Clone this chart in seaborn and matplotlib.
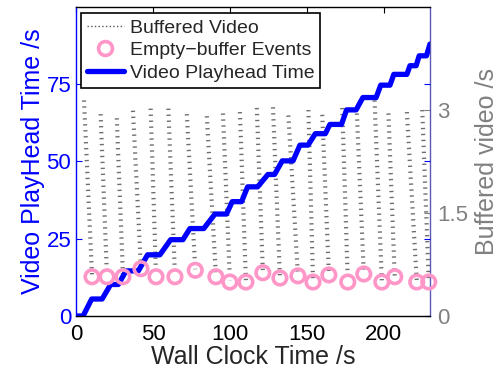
import numpy as np
import pandas as pd
import seaborn as sns
import matplotlib.pyplot as plt
from matplotlib.lines import Line2D

# video playhead (left axis), staircase vertices
play_t = [0, 4.6, 10.2, 17.0, 22.5, 27.5, 32.5, 40.5, 46.5, 54.5, 61.5, 69.5, 74.0, 83.0,
          90.3, 97.8, 101.5, 107.6, 111.5, 118.0, 124.7, 129.0, 134.0, 141.0, 145.5, 150.8,
          155.5, 162.0, 165.0, 172.5, 175.8, 182.0, 186.4, 195.0, 198.0, 204.0, 206.5, 215.0,
          217.0, 221.0, 223.0, 227.7, 230.0]
play_v = [0, 0, 5.5, 5.5, 10.2, 10.2, 14.6, 14.6, 19.8, 19.8, 24.7, 24.7, 28.3, 28.3,
          33.0, 33.0, 37.0, 37.0, 41.8, 41.8, 45.8, 45.8, 50.2, 50.2, 55.3, 55.3,
          59.0, 59.0, 62.0, 62.0, 66.7, 66.7, 70.7, 70.7, 74.7, 74.7, 78.2, 78.2,
          81.0, 81.0, 84.2, 84.2, 88.0]

# empty-buffer events (left axis units)
event_t = [10.4, 20.1, 30.5, 42.2, 52.0, 64.3, 77.5, 90.9, 100.0, 110.4, 121.4, 132.5,
           144.2, 154.0, 164.3, 176.6, 187.0, 198.7, 207.1, 221.4, 229.2]
event_v = [12.7, 12.7, 12.7, 15.3, 12.7, 12.7, 14.8, 12.7, 11.0, 11.0, 14.0, 12.3,
           13.0, 11.0, 13.3, 11.0, 13.6, 11.0, 12.7, 11.0, 11.0]

# buffered video (right axis): top of each refill column and level at the empty event
buf_top_t = [5.2, 16.0, 26.5, 37.0, 48.5, 60.0, 72.0, 85.0, 95.5, 106.5, 117.5, 128.0,
             138.0, 151.0, 160.0, 173.0, 182.5, 194.0, 203.0, 215.0, 225.0]
buf_top_v = [3.14, 2.94, 2.88, 2.99, 3.02, 3.02, 2.94, 2.91, 2.95, 2.97, 3.03, 3.04,
             2.92, 3.00, 2.93, 3.03, 2.95, 3.14, 2.95, 2.97, 3.00]
buf_low_v = [0.60, 0.60, 0.60, 0.70, 0.60, 0.60, 0.68, 0.60, 0.52, 0.52, 0.65, 0.57,
             0.60, 0.52, 0.62, 0.52, 0.63, 0.52, 0.58, 0.52, 0.52]

rows = []
for i in range(len(buf_top_t)):
    rows.append((i, buf_top_t[i], buf_top_v[i]))
    rows.append((i, event_t[i], buf_low_v[i]))
buf = pd.DataFrame(rows, columns=['col', 't', 'buf'])

sns.set_style('white')
plt.rcParams['font.family'] = ['Liberation Sans', 'DejaVu Sans']
plt.rcParams['xtick.direction'] = 'in'
plt.rcParams['ytick.direction'] = 'in'

fig = plt.figure(figsize=(4.98, 3.68), dpi=100)
ax1 = fig.add_axes([0.1526, 0.1413, 0.7108, 0.8397])
ax2 = ax1.twinx()

sns.lineplot(data=buf, x='t', y='buf', units='col', estimator=None, sort=False, ax=ax2,
             color='#6e6e6e', lw=3.0, ls=(0, (0.33, 1.1)), legend=False)

sns.lineplot(x=play_t, y=play_v, ax=ax1, color='blue', lw=3.8, sort=False, estimator=None)
sns.scatterplot(x=event_t, y=event_v, ax=ax1, s=95, fc='none', ec='#ff96c8',
                linewidth=2.6, zorder=4, clip_on=False)

ax1.set_zorder(ax2.get_zorder() + 1)
ax1.patch.set_visible(False)

ax1.set_xlim(0, 230)
ax1.set_ylim(0, 100)
ax2.set_ylim(0, 4.5)
ax1.set_xticks([0, 50, 100, 150, 200])
ax1.set_yticks([0, 25, 50, 75])
ax2.set_yticks([0, 1.5, 3])
ax2.set_yticklabels(['0', '1.5', '3'])

ax1.tick_params(axis='x', labelsize=16, length=4, pad=6, top=True, colors='black')
ax1.tick_params(axis='y', labelsize=16, length=4, right=True, labelright=False,
                colors='blue')
ax2.tick_params(axis='y', labelsize=16, length=4, pad=5, colors='#808080')

for s in ['left', 'top', 'bottom']:
    ax2.spines[s].set_visible(False)
ax1.spines['right'].set_visible(False)
ax1.spines['left'].set_color('blue')
ax1.spines['top'].set_color('black')
ax1.spines['bottom'].set_color('black')
ax2.spines['right'].set_color('#5a5ab4')
for sp in list(ax1.spines.values()) + [ax2.spines['right']]:
    sp.set_linewidth(1.0)

ax1.set_xlabel('Wall Clock Time /s', fontsize=18, labelpad=0)
ax1.set_ylabel('Video PlayHead Time /s', fontsize=18, color='blue', labelpad=1)
ax2.set_ylabel('Buffered video /s', fontsize=18, color='#808080', labelpad=5)

handles = [
    Line2D([], [], color='#555555', lw=1.0, ls=':'),
    Line2D([], [], ls='none', marker='o', ms=10, mfc='none', mec='#ff96c8', mew=2.6),
    Line2D([], [], color='blue', lw=3.8),
]
labels = ['Buffered Video', 'Empty\u2212buffer Events', 'Video Playhead Time']
leg = ax1.legend(handles, labels, loc='upper left', bbox_to_anchor=(0.014, 0.98),
                 borderaxespad=0, fontsize=14, frameon=True, fancybox=False,
                 edgecolor='black', framealpha=1, handlelength=1.9, handletextpad=0.3,
                 labelspacing=0.26, borderpad=0.3)
leg.get_frame().set_linewidth(1.2)

fig.savefig('out.png', dpi=100)
